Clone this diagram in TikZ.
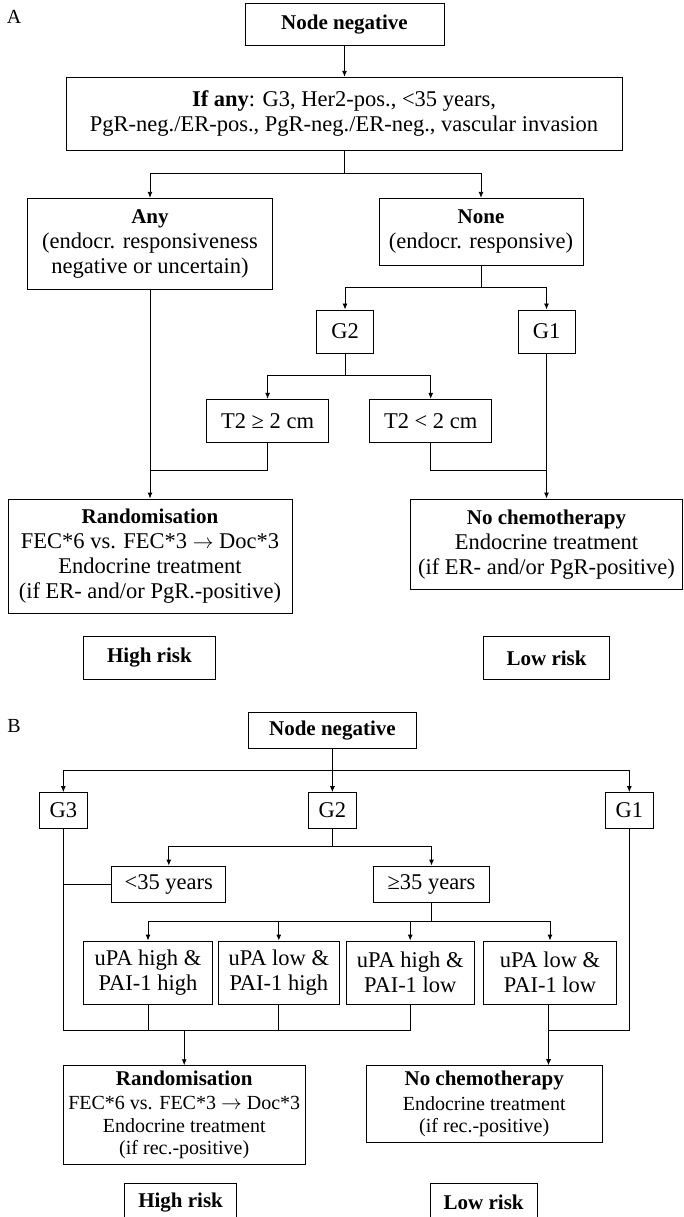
\documentclass[tikz,border=0pt]{standalone}
\usepackage{fontspec}
\setmainfont{Liberation Serif}
\usetikzlibrary{arrows.meta}

\begin{document}
\begin{tikzpicture}[x=1pt,y=-1pt,
  box/.style={draw, line width=1pt, inner sep=0pt, align=center,
    font=\fontsize{22.5}{25}\selectfont},
  hbox/.style={box, font=\fontsize{21}{25}\selectfont\bfseries},
  link/.style={line width=0.9pt},
  arr/.style={link, -{Latex[length=6pt,width=5pt]}},
  panel/.style={font=\fontsize{20}{24}\selectfont}]
\useasboundingbox (0,0) rectangle (684,1217);

% ---------------- Panel A ----------------
\node[panel] (labA) at (14,17) {A};
\node[hbox, minimum width=199pt, minimum height=42.5pt] (nnA) at (344.5,24.5) {Node negative};
\node[box, minimum width=556pt, minimum height=73.3pt] (ifA) at (344,114)
  {\textbf{If any}: G3, Her2-pos., <35 years,\\PgR-neg./ER-pos., PgR-neg./ER-neg., vascular invasion};
\node[box, minimum width=245pt, minimum height=90.7pt] (anyA) at (150,243.7)
  {\fontsize{21}{25}\selectfont\bfseries Any\\(endocr. responsiveness\\negative or uncertain)};
\node[box, minimum width=204pt, minimum height=66.7pt] (noneA) at (481,231.7)
  {\fontsize{21}{25}\selectfont\bfseries None\\(endocr. responsive)};
\node[box, minimum width=56.3pt, minimum height=43pt] (g2A) at (345,331.5) {G2};
\node[box, minimum width=57pt, minimum height=43pt] (g1A) at (546.5,331.5) {G1};
\node[box, minimum width=121.7pt, minimum height=42.7pt] (t2geA) at (267.6,420.7) {T2 ≥ 2 cm};
\node[box, minimum width=122.5pt, minimum height=42.7pt] (t2ltA) at (430.7,420.7) {T2 < 2 cm};
\node[box, minimum width=284pt, minimum height=114.3pt] (randA) at (150,556.2)
  {\fontsize{21}{25}\selectfont\bfseries Randomisation\\FEC*6 vs. FEC*3 $\rightarrow$ Doc*3\\Endocrine treatment\\(if ER- and/or PgR.-positive)};
\node[box, minimum width=272.7pt, minimum height=90.3pt] (nochA) at (546.5,544.2)
  {\fontsize{21}{25}\selectfont\bfseries No chemotherapy\\Endocrine treatment\\(if ER- and/or PgR-positive)};
\node[hbox, minimum width=132.2pt, minimum height=42.6pt] (highA) at (149.4,658) {High risk};
\node[hbox, minimum width=126.5pt, minimum height=42.6pt] (lowA) at (546.6,658) {Low risk};

\coordinate (jA1) at (344,173);
\coordinate (jA2) at (481,287.7);
\coordinate (jA3) at (345,375.7);
\coordinate (jA4) at (150,470);
\coordinate (jA5) at (546.5,470);

\draw[arr] (nnA.south) -- (nnA.south |- ifA.north);
\draw[arr] (ifA.south |- jA1) -| (anyA.north);
\draw[arr] (ifA.south) -- (jA1) -| (noneA.north);
\draw[arr] (jA2) -| (g2A.north);
\draw[arr] (noneA.south) -- (jA2) -| (g1A.north);
\draw[arr] (jA3) -| (t2geA.north);
\draw[arr] (g2A.south) -- (jA3) -| (t2ltA.north);
\draw[link] (t2geA.south) |- (jA4);
\draw[arr] (anyA.south) -- (randA.north);
\draw[link] (t2ltA.south) |- (jA5);
\draw[arr] (g1A.south) -- (nochA.north);

% ---------------- Panel B ----------------
\node[panel] (labB) at (14,726) {B};
\node[hbox, minimum width=168.8pt, minimum height=36.3pt] (nnB) at (332.4,730.8) {Node negative};
\node[box, minimum width=48pt, minimum height=35.6pt] (g3B) at (63.3,810.5) {G3};
\node[box, minimum width=48pt, minimum height=35.6pt] (g2B) at (332.4,810.5) {G2};
\node[box, minimum width=47.5pt, minimum height=35.6pt] (g1B) at (629.3,810.5) {G1};
\node[box, minimum width=114.3pt, minimum height=36.3pt] (ltB) at (168.8,884.2) {<35 years};
\node[box, minimum width=115.2pt, minimum height=36.3pt] (geB) at (431.5,884.2) {≥35 years};
\node[box, minimum width=128.2pt, minimum height=63.3pt] (u1) at (148,972.7) {uPA high \&\\PAI-1 high};
\node[box, minimum width=120.5pt, minimum height=63.3pt] (u2) at (278.8,972.7) {uPA low \&\\PAI-1 high};
\node[box, minimum width=127.8pt, minimum height=63.3pt] (u3) at (410.2,972.7) {uPA high \&\\PAI-1 low};
\node[box, minimum width=132.6pt, minimum height=63.3pt] (u4) at (550,972.7) {uPA low \&\\PAI-1 low};
\node[box, minimum width=241.7pt, minimum height=98.3pt, font=\fontsize{20}{22.5}\selectfont] (randB) at (184.2,1114.9)
  {\fontsize{21}{22.5}\selectfont\bfseries Randomisation\\[2pt]FEC*6 vs. FEC*3 $\rightarrow$ Doc*3\\Endocrine treatment\\(if rec.-positive)};
\node[box, minimum width=235.6pt, minimum height=77pt, font=\fontsize{20}{22.5}\selectfont] (nochB) at (484.2,1104.2)
  {\fontsize{21}{22.5}\selectfont\bfseries No chemotherapy\\[2pt]Endocrine treatment\\(if rec.-positive)};
\node[hbox, minimum width=112.2pt, minimum height=38pt] (highB) at (180.6,1202.3) {High risk};
\node[hbox, minimum width=107.3pt, minimum height=38pt] (lowB) at (483.7,1202.3) {Low risk};

\coordinate (jB1) at (332.4,770.7);
\coordinate (jB2) at (332.4,846.7);
\coordinate (jB3) at (431.5,921.7);
\coordinate (jB4) at (184.2,1030.7);
\coordinate (jB5) at (548.5,1030.3);

\draw[arr] (jB1) -| (g3B.north);
\draw[arr] (nnB.south) -- (g2B.north);
\draw[arr] (jB1) -| (g1B.north);
\draw[arr] (jB2) -| (ltB.north);
\draw[arr] (g2B.south) -- (jB2) -| (geB.north);
\draw[link] (ltB.west) -- (ltB.west -| g3B.south);
\draw[arr] (geB.south) -- (jB3) -| (u1.north);
\draw[arr] (jB3) -| (u2.north);
\draw[arr] (jB3) -| (u3.north);
\draw[arr] (jB3) -| (u4.north);
\draw[link] (g3B.south) |- (jB4) -| (u3.south);
\draw[link] (u1.south) -- (u1.south |- jB4);
\draw[link] (u2.south) -- (u2.south |- jB4);
\draw[arr] (jB4) -- (randB.north);
\draw[link] (g1B.south) |- (jB5);
\draw[link] (u4.south -| jB5) -- (jB5);
\draw[arr] (jB5) -- (jB5 |- nochB.north);
\end{tikzpicture}
\end{document}
